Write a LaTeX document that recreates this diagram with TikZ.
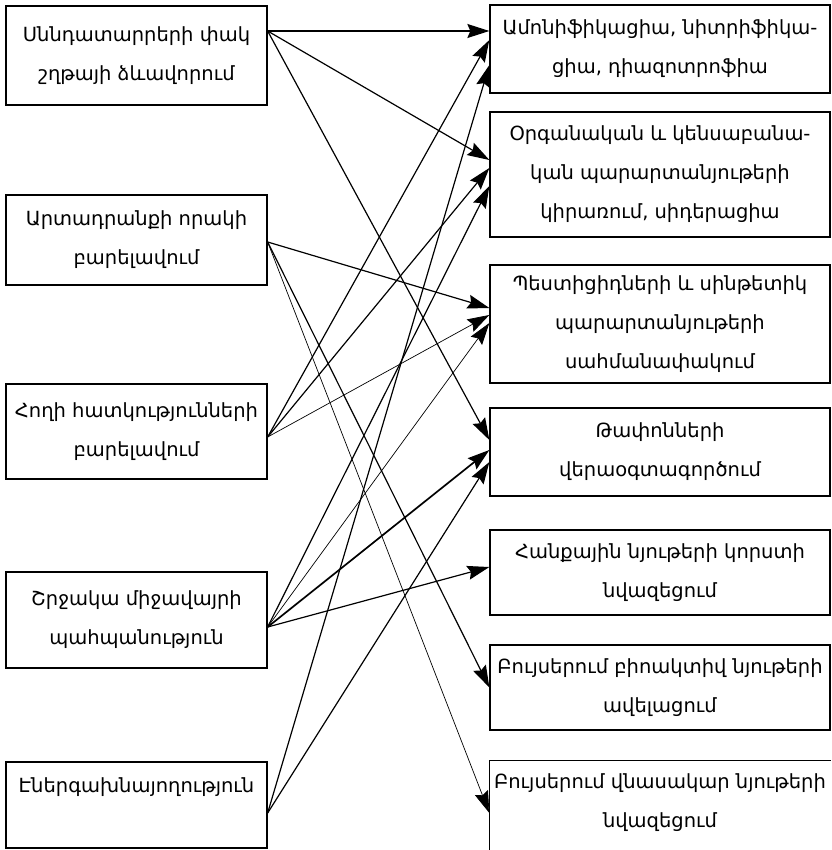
\documentclass[tikz,border=0pt]{standalone}
\usepackage{fontspec}
\newfontfamily\armfont{DejaVu Sans}
\usetikzlibrary{arrows.meta}
\begin{document}
\begin{tikzpicture}[x=1pt,y=-1pt,
  box/.style={draw,line width=1.3pt,rectangle,inner sep=0pt,align=center,
    font=\armfont\fontsize{19.5}{39}\selectfont},
  lbox/.style={box,minimum width=261pt},
  rbox/.style={box,minimum width=340pt},
  >={Stealth[length=22pt,width=14pt,inset=3pt]},
  conn/.style={line width=1.2pt,->},
  thin conn/.style={line width=0.7pt,->},
  thick conn/.style={line width=1.7pt,->}]
\useasboundingbox (0,0) rectangle (831,850);
\clip (0,0) rectangle (831,850);
% left boxes
\node[lbox,minimum height=99pt] (L1) at (136.5,55.5) {Սննդատարրերի փակ\\շղթայի ձևավորում};
\node[lbox,minimum height=90pt] (L2) at (136.5,240) {Արտադրանքի որակի\\բարելավում};
\node[lbox,minimum height=95pt] (L3) at (136.5,431.5) {Հողի հատկությունների\\բարելավում};
\node[lbox,minimum height=96pt] (L4) at (136.5,620) {Շրջակա միջավայրի\\պահպանություն};
\node[lbox,minimum height=86pt] (L5) at (136.5,805) {Էներգախնայողություն\\\mbox{}};
% right boxes
\node[rbox,minimum height=88pt] (R1) at (660,49) {Ամոնիֆիկացիա, նիտրիֆիկա-\\ցիա, դիազոտրոֆիա};
\node[rbox,minimum height=125pt] (R2) at (660,174.5) {Օրգանական և կենսաբանա-\\կան պարարտանյութերի\\կիրառում, սիդերացիա};
\node[rbox,minimum height=118pt] (R3) at (660,324) {Պեստիցիդների և սինթետիկ\\պարարտանյութերի\\սահմանափակում};
\node[rbox,minimum height=88pt] (R4) at (660,452) {Թափոնների\\վերաօգտագործում};
\node[rbox,minimum height=85pt] (R5) at (660,572.5) {Հանքային նյութերի կորստի\\նվազեցում};
\node[rbox,minimum height=85pt] (R6) at (660,687.5) {Բույսերում բիոակտիվ նյութերի\\ավելացում};
\node[rbox,draw=none,minimum height=83pt] (R7) at (660,802.5) {Բույսերում վնասակար նյութերի\\նվազեցում};
\draw[line width=1.3pt] ([yshift=-30pt]R7.south west) -- (R7.north west) -- (R7.north east);
% connectors
\draw[conn] ([yshift=24.5pt]L1.east) -- ([yshift=18pt]R1.west);
\draw[conn] ([yshift=24.5pt]L1.east) -- ([yshift=14.5pt]R2.west);
\draw[conn] ([yshift=24.5pt]L1.east) -- ([yshift=12pt]R4.west);
\draw[conn] ([yshift=-2pt]L2.east) -- ([yshift=16pt]R3.west);
\draw[conn] ([yshift=-2pt]L2.east) -- (R6.west);
\draw[thin conn] ([yshift=-2pt]L2.east) -- ([yshift=-10.5pt]R7.west);
\draw[conn] ([yshift=-5.5pt]L3.east) -- ([yshift=9pt]R1.west);
\draw[conn] ([yshift=-5.5pt]L3.east) -- ([yshift=6.5pt]R2.west);
\draw[thin conn] ([yshift=-5.5pt]L3.east) -- ([yshift=9pt]R3.west);
\draw[conn] ([yshift=-7pt]L4.east) -- ([yshift=-11.5pt]R2.west);
\draw[thin conn] ([yshift=-7pt]L4.east) -- ([yshift=1pt]R3.west);
\draw[thick conn] ([yshift=-7pt]L4.east) -- ([yshift=2pt]R4.west);
\draw[conn] ([yshift=-7pt]L4.east) -- ([yshift=5.5pt]R5.west);
\draw[conn] ([yshift=-8pt]L5.east) -- ([yshift=-16pt]R1.west);
\draw[conn] ([yshift=-8pt]L5.east) -- ([yshift=-10pt]R4.west);
\end{tikzpicture}
\end{document}
